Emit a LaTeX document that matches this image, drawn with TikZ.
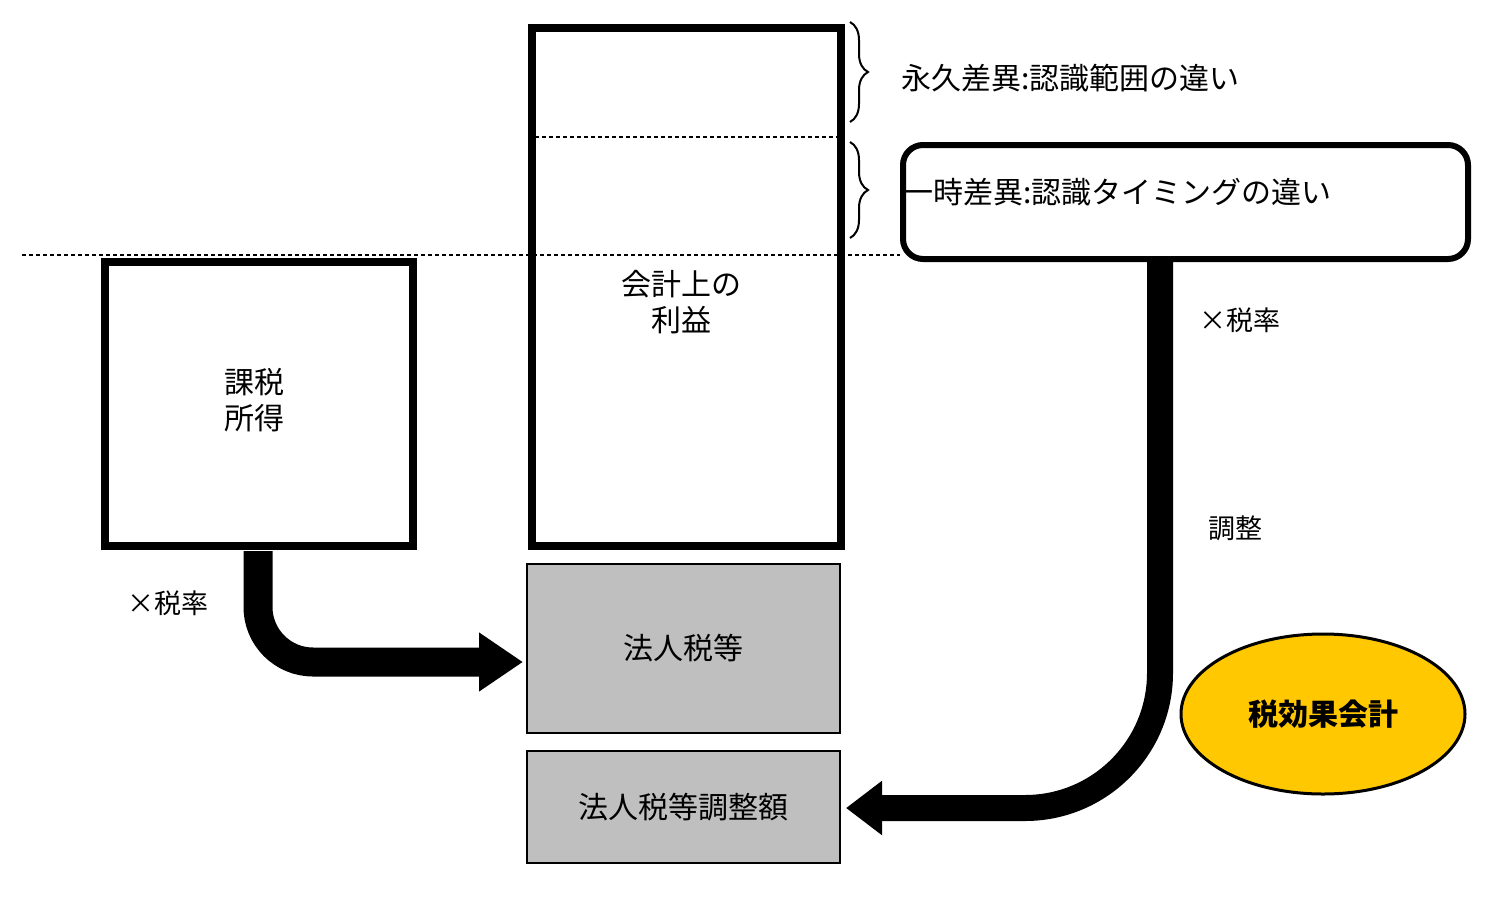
\documentclass[tikz,border=0pt]{standalone}
\usepackage{fontspec}
\setmainfont{Noto Sans CJK JP}
\usetikzlibrary{arrows.meta,decorations.pathreplacing,shapes.geometric}
\begin{document}
\begin{tikzpicture}[x=1pt,y=-1pt,
  thickbox/.style={draw,line width=8pt},
  graybox/.style={draw,line width=2pt,fill=gray!50},
  lbl/.style={font=\fontsize{30}{36}\selectfont,align=center},
  small/.style={font=\fontsize{27}{32}\selectfont},
  dotline/.style={line width=1.8pt,dash pattern=on 4pt off 3pt},
  bigarrow/.style={line width=29pt},
  br/.style={decorate,decoration={brace,amplitude=18pt},line width=2pt}]
\useasboundingbox (0,0) rectangle (1500,914);
\draw[dotline] (22,255) -- (900,255);
\draw[dotline] (528,137) -- (838,137);
\node[thickbox,minimum width=309pt,minimum height=518pt,anchor=north west] (acc) at (528,24) {};
\node[thickbox,minimum width=308pt,minimum height=284pt,anchor=north west] (tax) at (101,258) {};
\node[lbl] (acct) at (681,302) {会計上の\\利益};
\node[lbl] (taxt) at (254,400) {課税\\所得};
\node[graybox,minimum width=313pt,minimum height=169pt,anchor=north west,lbl] (hz) at (526,563) {法人税等};
\node[graybox,minimum width=313pt,minimum height=112pt,anchor=north west,lbl] (hzc) at (526,750) {法人税等調整額};
\draw[br] (850,22) -- (850,122);
\draw[br] (850,142) -- (850,238);
\node[lbl,anchor=west] (perm) at (898,78) {永久差異:認識範囲の違い};
\node[draw,line width=6pt,rounded corners=20pt,minimum width=565pt,minimum height=114pt,anchor=north west] (temp) at (900,142) {};
\node[lbl,anchor=west] (tempt) at (900,192) {一時差異:認識タイミングの違い};
\node[draw,line width=3pt,fill={rgb,255:red,255;green,200;blue,0},ellipse,minimum width=284pt,minimum height=160pt,font=\fontsize{30}{36}\selectfont\bfseries] (eff) at (1323,714) {税効果会計};
\coordinate (a1) at (258,551);
\coordinate (a2) at (258,662);
\coordinate (a3) at (523,662);
\draw[bigarrow,rounded corners=55pt,-{Triangle[length=44pt,width=56pt]}] (a1) -- (a2) -- (a3);
\coordinate (b1) at (1160,260);
\coordinate (b2) at (1160,808);
\coordinate (b3) at (846,808);
\draw[line width=26pt,rounded corners=135pt,-{Triangle[length=36pt,width=52pt]}] (b1) -- (b2) -- (b3);
\node[small] (r1) at (168,603) {×税率};
\node[small] (r2) at (1240,320) {×税率};
\node[small] (adj) at (1235,528) {調整};
\end{tikzpicture}
\end{document}
